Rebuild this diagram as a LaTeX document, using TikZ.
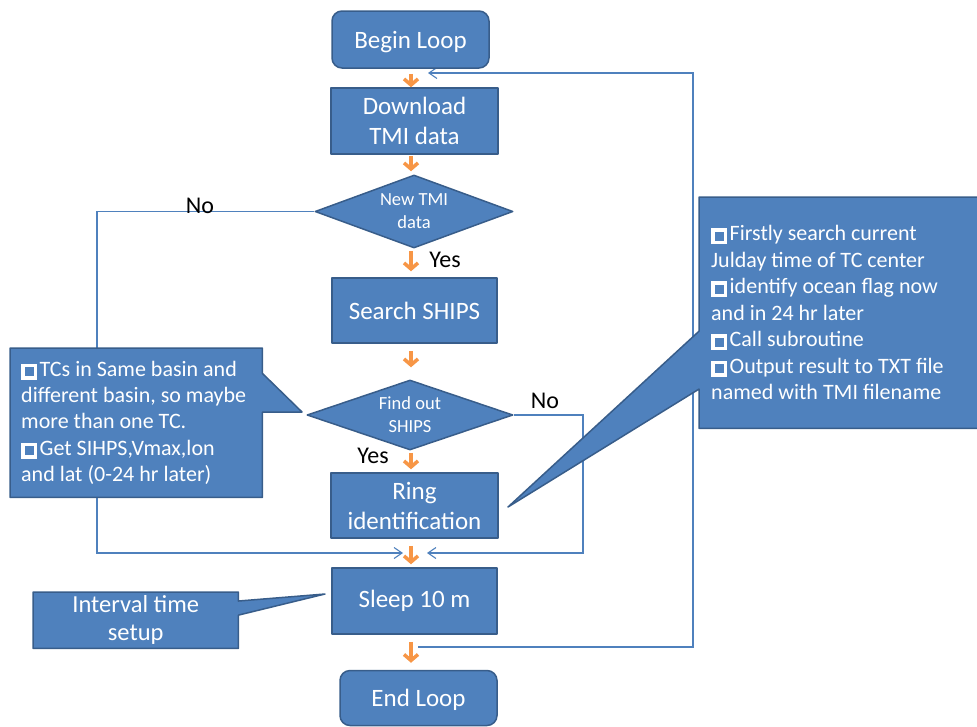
\documentclass[tikz,border=0pt]{standalone}
\usepackage{fontspec}
\setmainfont{Carlito}
\usetikzlibrary{arrows.meta,shapes.geometric,calc}
\pgfdeclarelayer{linklayer}
\pgfdeclarelayer{notelayer}
\pgfsetlayers{linklayer,notelayer,main}
\definecolor{boxblue}{HTML}{4F81BD}
\definecolor{boxedge}{HTML}{385D8A}
\definecolor{flowor}{HTML}{F79646}
\definecolor{linkblue}{HTML}{4F81BD}
\newcommand\sqbul{{\setlength{\fboxsep}{0pt}\setlength{\fboxrule}{3.5pt}\fbox{\rule{0pt}{9pt}\hspace{9pt}}}\hspace{2.5pt}}
\tikzset{
  stepbox/.style={draw=boxedge, fill=boxblue, line width=1.5pt, text=white, align=center,
    inner sep=2pt, font=\fontsize{25}{30}\selectfont},
  termbox/.style={stepbox, rounded corners=10pt, text depth=0pt},
  testbox/.style={diamond, draw=boxedge, fill=boxblue, line width=1.5pt, text=white, align=center,
    inner sep=0pt, font=\fontsize{18.5}{23}\selectfont},
  notetext/.style={text=white, align=flush left, inner xsep=11pt, anchor=north west,
    font=\fontsize{22}{26.3}\selectfont},
  noteshape/.style={draw=boxedge, fill=boxblue, line width=1.5pt, line join=round},
  flow/.style={flowor, line width=3.5pt, -{Straight Barb[length=6pt,width=14pt]}, shorten <=2pt, shorten >=3pt},
  link/.style={linkblue, line width=1.1pt, -{Straight Barb[length=8pt,width=11pt]}},
  answer/.style={font=\fontsize{24}{28}\selectfont}
}
\begin{document}
\begin{tikzpicture}[x=1pt, y=-1pt, line join=round]
  \useasboundingbox (0,0) rectangle (977,726);
  % main column
  \node[termbox, minimum width=157pt, minimum height=57pt] (begin) at (410.5,39.5) {Begin Loop};
  \node[stepbox, minimum width=167pt, minimum height=66pt] (download) at (414.5,121) {Download\\TMI data};
  \node[testbox, aspect=2.7, minimum width=198pt, minimum height=73pt] (newtmi) at (414,211.5) {New TMI\\data};
  \node[stepbox, minimum width=165pt, minimum height=65pt] (search) at (414.5,310.5) {Search SHIPS};
  \node[testbox, aspect=2.95, minimum width=206pt, minimum height=70pt] (findout) at (410,415) {Find out\\SHIPS};
  \node[stepbox, minimum width=167pt, minimum height=65pt] (ring) at (414.5,505.5) {Ring\\identification};
  \node[stepbox, minimum width=165pt, minimum height=66pt] (sleep) at (414.5,601) {Sleep 10 m};
  \node[termbox, minimum width=157pt, minimum height=55pt] (endloop) at (418.5,698) {End Loop};

  \node[answer] (nonew) at (200,206) {No};
  \node[answer] (yesnew) at (445,260) {Yes};
  \node[answer] (nofind) at (545,401) {No};
  \node[answer] (yesfind) at (373,456) {Yes};

  \coordinate (axis) at (411,0);
  \draw[flow, shorten <=5pt, shorten >=0pt] (axis |- begin.south) -- (axis |- download.north);
  \draw[flow, shorten <=1pt] (axis |- download.south) -- (axis |- newtmi.north);
  \draw[flow, shorten >=6pt] (axis |- newtmi.south) -- (axis |- search.north);
  \draw[flow, shorten <=7pt, shorten >=12pt] (axis |- search.south) -- (axis |- findout.north);
  \draw[flow] (axis |- findout.south) -- (axis |- ring.north);
  \draw[flow, shorten <=7pt] (axis |- ring.south) -- (axis |- sleep.north);
  \draw[flow, shorten <=7pt, shorten >=7pt] (axis |- sleep.south) -- (axis |- endloop.north);

  \coordinate (leftrail) at (97,0);
  \coordinate (rightrail) at (583,0);
  \coordinate (looprail) at (693,0);
  \coordinate (joinL) at (403,553);
  \coordinate (joinR) at (427,553);
  \coordinate (loopout) at (418,647);
  \coordinate (loopin) at (428,73);
  \begin{pgfonlayer}{linklayer}
    \draw[link] (newtmi.west) -- (newtmi.west -| leftrail) |- (joinL);
    \draw[link] (findout.east) -- (findout.east -| rightrail) |- (joinR);
    \draw[link] (loopout) -- (loopout -| looprail) |- (loopin);
  \end{pgfonlayer}

  % callouts
  \node[notetext, text width=230pt, minimum height=149pt] (tcnote) at (10,348)
    {\sqbul TCs in Same basin and\\different basin, so maybe\\more than one TC.\\\sqbul Get SIHPS,Vmax,lon\\and lat (0-24 hr later)};
  \node[notetext, text width=267pt, inner xsep=12pt, minimum height=231pt, font=\fontsize{22}{26.5}\selectfont] (shipnote) at (699,197)
    {\sqbul Firstly search current\\Julday time of TC center\\\sqbul identify ocean flag now\\and in 24 hr later\\\sqbul Call subroutine\\\sqbul Output result to TXT file\\named with TMI filename};
  \node[notetext, align=flush center, text width=183pt, minimum height=56pt, font=\fontsize{24.5}{28}\selectfont] (waitnote) at (33,592)
    {Interval time\\setup};
  \coordinate (tctip) at (302,412);
  \coordinate (shiptip) at (508,507);
  \coordinate (waittip) at (325,594);
  \begin{pgfonlayer}{notelayer}
    \filldraw[noteshape] (tcnote.north west) -- (tcnote.north east)
      -- ($(tcnote.north east)!0.17!(tcnote.south east)$) -- (tctip)
      -- ($(tcnote.north east)!0.43!(tcnote.south east)$) -- (tcnote.south east)
      -- (tcnote.south west) -- cycle;
    \filldraw[noteshape] (shipnote.north east) -- (shipnote.north west)
      -- ($(shipnote.north west)!0.58!(shipnote.south west)$) -- (shiptip)
      -- ($(shipnote.north west)!0.83!(shipnote.south west)$) -- (shipnote.south west)
      -- (shipnote.south east) -- cycle;
    \filldraw[noteshape] (waitnote.north west) -- (waitnote.north east)
      -- ($(waitnote.north east)!0.16!(waitnote.south east)$) -- (waittip)
      -- ($(waitnote.north east)!0.41!(waitnote.south east)$) -- (waitnote.south east)
      -- (waitnote.south west) -- cycle;
  \end{pgfonlayer}
\end{tikzpicture}
\end{document}
